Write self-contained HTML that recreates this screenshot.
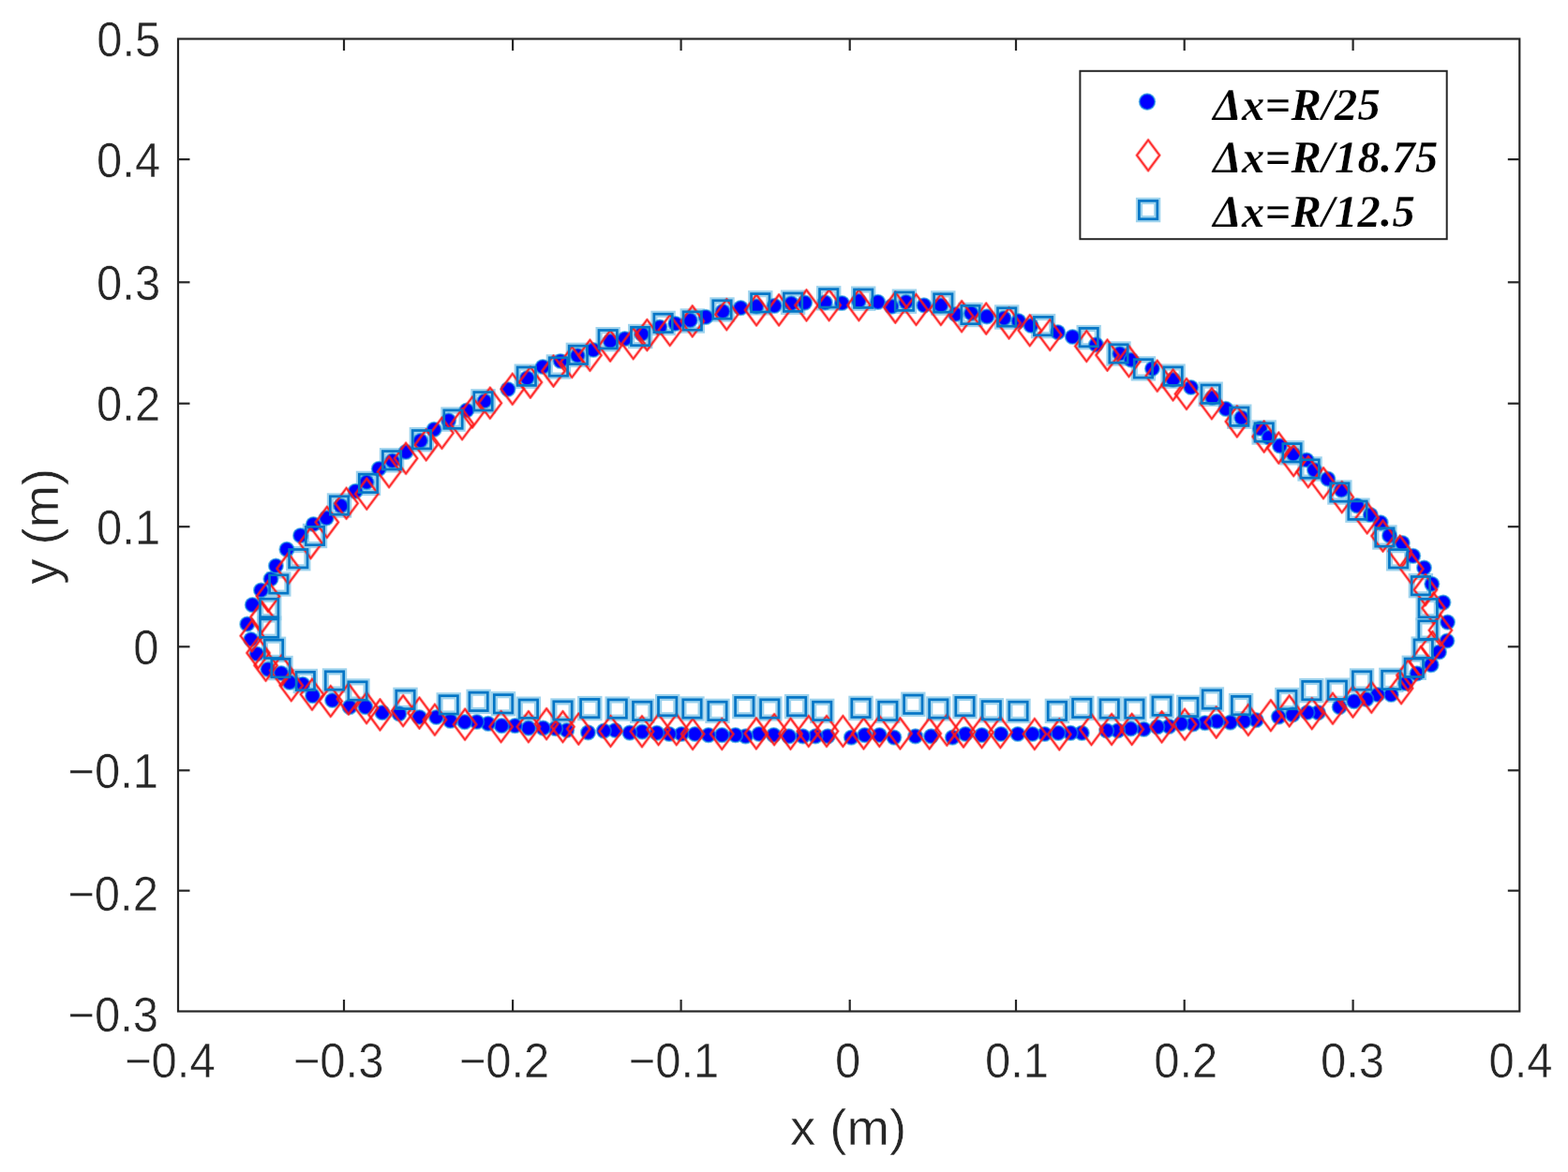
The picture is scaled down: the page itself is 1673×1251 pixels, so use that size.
<!DOCTYPE html>
<html lang="en"><head><meta charset="utf-8"><title>Droplet shape convergence</title>
<style>html,body{margin:0;padding:0;background:#fff;}body{width:1673px;height:1251px;overflow:hidden;}svg{display:block;}.t{font-family:"Liberation Sans",Arial,Helvetica,sans-serif;font-size:49px;fill:#262626;stroke:#fff;stroke-width:.45px;}.l{font-family:"Liberation Sans",Arial,Helvetica,sans-serif;font-size:54.5px;fill:#262626;stroke:#fff;stroke-width:.45px;}.g{font-family:"Liberation Serif","Times New Roman",serif;font-weight:bold;font-style:italic;font-size:48.5px;fill:#000;letter-spacing:.3px;stroke:#fff;stroke-width:.25px;}.b{fill:#0000ff;stroke:#0d94da;stroke-width:2.0;stroke-opacity:.6}.r{fill:none;stroke:#ff1414;stroke-width:1.8;stroke-opacity:.85}.rh{fill:none;stroke:#ff2a2a;stroke-width:3.6;stroke-opacity:.38;stroke-linejoin:round}.s{fill:none;stroke:#0476c6;stroke-width:2.7}.sh{fill:none;stroke:#8ecbea;stroke-width:7.2;stroke-opacity:.85}</style></head><body>
<svg width="1673" height="1251" viewBox="0 0 1673 1251" role="img" aria-label="Droplet boundary shape for three particle spacings">
<rect x="0" y="0" width="1673" height="1251" fill="#fff"/>
<g>
<g>
<rect class="sh" x="289.9" y="703.5" width="19.2" height="19.2"/>
<rect class="sh" x="282.4" y="683.2" width="19.2" height="19.2"/>
<rect class="sh" x="277.6" y="661.0" width="19.2" height="19.2"/>
<rect class="sh" x="277.6" y="639.4" width="19.2" height="19.2"/>
<rect class="sh" x="287.7" y="613.9" width="19.2" height="19.2"/>
<rect class="sh" x="308.7" y="586.6" width="19.2" height="19.2"/>
<rect class="sh" x="326.4" y="562.4" width="19.2" height="19.2"/>
<rect class="sh" x="352.4" y="529.9" width="19.2" height="19.2"/>
<rect class="sh" x="383.4" y="506.3" width="19.2" height="19.2"/>
<rect class="sh" x="408.5" y="481.7" width="19.2" height="19.2"/>
<rect class="sh" x="440.3" y="459.6" width="19.2" height="19.2"/>
<rect class="sh" x="473.9" y="438.0" width="19.2" height="19.2"/>
<rect class="sh" x="505.9" y="418.7" width="19.2" height="19.2"/>
<rect class="sh" x="552.2" y="392.1" width="19.2" height="19.2"/>
<rect class="sh" x="586.3" y="381.9" width="19.2" height="19.2"/>
<rect class="sh" x="607.3" y="369.3" width="19.2" height="19.2"/>
<rect class="sh" x="639.1" y="352.6" width="19.2" height="19.2"/>
<rect class="sh" x="673.6" y="349.4" width="19.2" height="19.2"/>
<rect class="sh" x="698.0" y="335.3" width="19.2" height="19.2"/>
<rect class="sh" x="729.2" y="332.9" width="19.2" height="19.2"/>
<rect class="sh" x="760.9" y="320.9" width="19.2" height="19.2"/>
<rect class="sh" x="801.7" y="313.7" width="19.2" height="19.2"/>
<rect class="sh" x="836.5" y="313.1" width="19.2" height="19.2"/>
<rect class="sh" x="874.6" y="308.7" width="19.2" height="19.2"/>
<rect class="sh" x="911.6" y="309.1" width="19.2" height="19.2"/>
<rect class="sh" x="955.3" y="312.1" width="19.2" height="19.2"/>
<rect class="sh" x="996.7" y="313.9" width="19.2" height="19.2"/>
<rect class="sh" x="1025.9" y="326.4" width="19.2" height="19.2"/>
<rect class="sh" x="1064.6" y="328.9" width="19.2" height="19.2"/>
<rect class="sh" x="1103.5" y="338.5" width="19.2" height="19.2"/>
<rect class="sh" x="1152.1" y="350.5" width="19.2" height="19.2"/>
<rect class="sh" x="1183.9" y="367.9" width="19.2" height="19.2"/>
<rect class="sh" x="1210.3" y="383.8" width="19.2" height="19.2"/>
<rect class="sh" x="1242.0" y="392.0" width="19.2" height="19.2"/>
<rect class="sh" x="1282.1" y="411.1" width="19.2" height="19.2"/>
<rect class="sh" x="1312.7" y="435.1" width="19.2" height="19.2"/>
<rect class="sh" x="1339.1" y="451.9" width="19.2" height="19.2"/>
<rect class="sh" x="1368.9" y="473.7" width="19.2" height="19.2"/>
<rect class="sh" x="1388.0" y="490.9" width="19.2" height="19.2"/>
<rect class="sh" x="1419.8" y="515.9" width="19.2" height="19.2"/>
<rect class="sh" x="1438.9" y="535.1" width="19.2" height="19.2"/>
<rect class="sh" x="1467.8" y="563.9" width="19.2" height="19.2"/>
<rect class="sh" x="1482.5" y="586.7" width="19.2" height="19.2"/>
<rect class="sh" x="1506.3" y="615.6" width="19.2" height="19.2"/>
<rect class="sh" x="1514.1" y="639.5" width="19.2" height="19.2"/>
<rect class="sh" x="1513.9" y="662.9" width="19.2" height="19.2"/>
<rect class="sh" x="1509.1" y="683.0" width="19.2" height="19.2"/>
<rect class="sh" x="1499.2" y="703.2" width="19.2" height="19.2"/>
<rect class="sh" x="1474.7" y="716.3" width="19.2" height="19.2"/>
<rect class="sh" x="1443.5" y="716.9" width="19.2" height="19.2"/>
<rect class="sh" x="1417.2" y="727.1" width="19.2" height="19.2"/>
<rect class="sh" x="1389.8" y="727.5" width="19.2" height="19.2"/>
<rect class="sh" x="1363.7" y="737.5" width="19.2" height="19.2"/>
<rect class="sh" x="1314.5" y="743.5" width="19.2" height="19.2"/>
<rect class="sh" x="1283.3" y="736.9" width="19.2" height="19.2"/>
<rect class="sh" x="1258.7" y="745.3" width="19.2" height="19.2"/>
<rect class="sh" x="1230.0" y="744.1" width="19.2" height="19.2"/>
<rect class="sh" x="1200.8" y="747.0" width="19.2" height="19.2"/>
<rect class="sh" x="1174.1" y="746.9" width="19.2" height="19.2"/>
<rect class="sh" x="1144.7" y="746.3" width="19.2" height="19.2"/>
<rect class="sh" x="1118.3" y="749.3" width="19.2" height="19.2"/>
<rect class="sh" x="1076.9" y="749.3" width="19.2" height="19.2"/>
<rect class="sh" x="1048.2" y="748.7" width="19.2" height="19.2"/>
<rect class="sh" x="1019.9" y="744.5" width="19.2" height="19.2"/>
<rect class="sh" x="991.7" y="746.9" width="19.2" height="19.2"/>
<rect class="sh" x="964.7" y="742.2" width="19.2" height="19.2"/>
<rect class="sh" x="937.7" y="749.3" width="19.2" height="19.2"/>
<rect class="sh" x="908.9" y="746.3" width="19.2" height="19.2"/>
<rect class="sh" x="867.6" y="749.3" width="19.2" height="19.2"/>
<rect class="sh" x="840.5" y="744.5" width="19.2" height="19.2"/>
<rect class="sh" x="811.7" y="746.9" width="19.2" height="19.2"/>
<rect class="sh" x="784.7" y="744.5" width="19.2" height="19.2"/>
<rect class="sh" x="755.9" y="749.3" width="19.2" height="19.2"/>
<rect class="sh" x="728.9" y="746.9" width="19.2" height="19.2"/>
<rect class="sh" x="702.6" y="744.5" width="19.2" height="19.2"/>
<rect class="sh" x="675.6" y="749.3" width="19.2" height="19.2"/>
<rect class="sh" x="649.1" y="747.0" width="19.2" height="19.2"/>
<rect class="sh" x="619.7" y="746.5" width="19.2" height="19.2"/>
<rect class="sh" x="590.9" y="748.9" width="19.2" height="19.2"/>
<rect class="sh" x="554.3" y="747.1" width="19.2" height="19.2"/>
<rect class="sh" x="527.4" y="741.7" width="19.2" height="19.2"/>
<rect class="sh" x="501.0" y="739.3" width="19.2" height="19.2"/>
<rect class="sh" x="469.1" y="742.8" width="19.2" height="19.2"/>
<rect class="sh" x="422.9" y="737.3" width="19.2" height="19.2"/>
<rect class="sh" x="371.9" y="727.9" width="19.2" height="19.2"/>
<rect class="sh" x="347.4" y="716.9" width="19.2" height="19.2"/>
<rect class="sh" x="316.2" y="717.4" width="19.2" height="19.2"/>
</g><g>
<circle class="b" cx="285.8" cy="714.3" r="7.6"/>
<circle class="b" cx="274.0" cy="698.0" r="7.6"/>
<circle class="b" cx="267.8" cy="682.5" r="7.6"/>
<circle class="b" cx="263.8" cy="666.2" r="7.6"/>
<circle class="b" cx="269.3" cy="645.7" r="7.6"/>
<circle class="b" cx="278.5" cy="630.0" r="7.6"/>
<circle class="b" cx="289.0" cy="618.0" r="7.6"/>
<circle class="b" cx="294.4" cy="604.0" r="7.6"/>
<circle class="b" cx="306.0" cy="586.4" r="7.6"/>
<circle class="b" cx="320.6" cy="571.7" r="7.6"/>
<circle class="b" cx="334.4" cy="559.5" r="7.6"/>
<circle class="b" cx="348.3" cy="552.8" r="7.6"/>
<circle class="b" cx="363.6" cy="539.9" r="7.6"/>
<circle class="b" cx="379.2" cy="524.3" r="7.6"/>
<circle class="b" cx="391.2" cy="514.7" r="7.6"/>
<circle class="b" cx="404.3" cy="500.3" r="7.6"/>
<circle class="b" cx="418.7" cy="491.9" r="7.6"/>
<circle class="b" cx="433.1" cy="482.4" r="7.6"/>
<circle class="b" cx="448.7" cy="470.4" r="7.6"/>
<circle class="b" cx="463.1" cy="458.4" r="7.6"/>
<circle class="b" cx="478.7" cy="448.8" r="7.6"/>
<circle class="b" cx="497.9" cy="438.0" r="7.6"/>
<circle class="b" cx="516.9" cy="428.0" r="7.6"/>
<circle class="b" cx="542.0" cy="415.5" r="7.6"/>
<circle class="b" cx="562.4" cy="403.5" r="7.6"/>
<circle class="b" cx="579.1" cy="391.5" r="7.6"/>
<circle class="b" cx="598.0" cy="385.5" r="7.6"/>
<circle class="b" cx="616.3" cy="379.5" r="7.6"/>
<circle class="b" cx="633.1" cy="373.5" r="7.6"/>
<circle class="b" cx="651.1" cy="364.0" r="7.6"/>
<circle class="b" cx="666.7" cy="361.6" r="7.6"/>
<circle class="b" cx="684.7" cy="356.5" r="7.6"/>
<circle class="b" cx="704.0" cy="349.1" r="7.6"/>
<circle class="b" cx="720.8" cy="345.5" r="7.6"/>
<circle class="b" cx="736.4" cy="341.9" r="7.6"/>
<circle class="b" cx="753.1" cy="338.3" r="7.6"/>
<circle class="b" cx="771.1" cy="332.3" r="7.6"/>
<circle class="b" cx="790.3" cy="328.7" r="7.6"/>
<circle class="b" cx="807.1" cy="326.9" r="7.6"/>
<circle class="b" cx="826.3" cy="326.3" r="7.6"/>
<circle class="b" cx="844.3" cy="323.9" r="7.6"/>
<circle class="b" cx="858.7" cy="323.1" r="7.6"/>
<circle class="b" cx="880.3" cy="322.8" r="7.6"/>
<circle class="b" cx="898.4" cy="323.5" r="7.6"/>
<circle class="b" cx="916.4" cy="321.1" r="7.6"/>
<circle class="b" cx="936.7" cy="322.3" r="7.6"/>
<circle class="b" cx="951.1" cy="327.1" r="7.6"/>
<circle class="b" cx="966.7" cy="322.3" r="7.6"/>
<circle class="b" cx="985.9" cy="325.9" r="7.6"/>
<circle class="b" cx="1003.9" cy="325.9" r="7.6"/>
<circle class="b" cx="1019.5" cy="335.5" r="7.6"/>
<circle class="b" cx="1036.3" cy="334.3" r="7.6"/>
<circle class="b" cx="1053.0" cy="337.9" r="7.6"/>
<circle class="b" cx="1071.2" cy="339.7" r="7.6"/>
<circle class="b" cx="1086.8" cy="342.7" r="7.6"/>
<circle class="b" cx="1100.0" cy="347.5" r="7.6"/>
<circle class="b" cx="1128.7" cy="354.7" r="7.6"/>
<circle class="b" cx="1144.3" cy="359.5" r="7.6"/>
<circle class="b" cx="1169.5" cy="367.9" r="7.6"/>
<circle class="b" cx="1194.7" cy="377.5" r="7.6"/>
<circle class="b" cx="1207.0" cy="384.2" r="7.6"/>
<circle class="b" cx="1229.5" cy="393.5" r="7.6"/>
<circle class="b" cx="1251.6" cy="405.2" r="7.6"/>
<circle class="b" cx="1270.7" cy="413.5" r="7.6"/>
<circle class="b" cx="1293.5" cy="424.3" r="7.6"/>
<circle class="b" cx="1307.9" cy="436.3" r="7.6"/>
<circle class="b" cx="1324.7" cy="445.9" r="7.6"/>
<circle class="b" cx="1344.5" cy="457.5" r="7.6"/>
<circle class="b" cx="1365.5" cy="475.9" r="7.6"/>
<circle class="b" cx="1379.8" cy="484.5" r="7.6"/>
<circle class="b" cx="1394.1" cy="491.0" r="7.6"/>
<circle class="b" cx="1402.4" cy="501.6" r="7.6"/>
<circle class="b" cx="1416.8" cy="511.2" r="7.6"/>
<circle class="b" cx="1431.2" cy="523.1" r="7.6"/>
<circle class="b" cx="1447.9" cy="539.9" r="7.6"/>
<circle class="b" cx="1462.3" cy="549.5" r="7.6"/>
<circle class="b" cx="1473.1" cy="557.9" r="7.6"/>
<circle class="b" cx="1482.5" cy="571.7" r="7.6"/>
<circle class="b" cx="1496.3" cy="579.5" r="7.6"/>
<circle class="b" cx="1507.7" cy="593.3" r="7.6"/>
<circle class="b" cx="1519.5" cy="606.0" r="7.6"/>
<circle class="b" cx="1527.8" cy="623.3" r="7.6"/>
<circle class="b" cx="1539.9" cy="643.1" r="7.6"/>
<circle class="b" cx="1544.5" cy="664.1" r="7.6"/>
<circle class="b" cx="1543.9" cy="684.0" r="7.6"/>
<circle class="b" cx="1535.5" cy="696.0" r="7.6"/>
<circle class="b" cx="1527.1" cy="709.7" r="7.6"/>
<circle class="b" cx="1511.9" cy="718.8" r="7.6"/>
<circle class="b" cx="1499.9" cy="729.5" r="7.6"/>
<circle class="b" cx="1484.3" cy="741.5" r="7.6"/>
<circle class="b" cx="1469.9" cy="741.5" r="7.6"/>
<circle class="b" cx="1457.9" cy="746.3" r="7.6"/>
<circle class="b" cx="1444.7" cy="748.7" r="7.6"/>
<circle class="b" cx="1429.2" cy="754.7" r="7.6"/>
<circle class="b" cx="1406.4" cy="760.7" r="7.6"/>
<circle class="b" cx="1394.9" cy="760.5" r="7.6"/>
<circle class="b" cx="1379.3" cy="762.9" r="7.6"/>
<circle class="b" cx="1364.3" cy="765.1" r="7.6"/>
<circle class="b" cx="1340.3" cy="768.7" r="7.6"/>
<circle class="b" cx="1327.1" cy="769.9" r="7.6"/>
<circle class="b" cx="1312.7" cy="771.1" r="7.6"/>
<circle class="b" cx="1298.3" cy="769.9" r="7.6"/>
<circle class="b" cx="1285.7" cy="771.7" r="7.6"/>
<circle class="b" cx="1273.1" cy="772.9" r="7.6"/>
<circle class="b" cx="1260.0" cy="772.3" r="7.6"/>
<circle class="b" cx="1247.4" cy="775.3" r="7.6"/>
<circle class="b" cx="1234.8" cy="775.9" r="7.6"/>
<circle class="b" cx="1220.4" cy="778.3" r="7.6"/>
<circle class="b" cx="1206.5" cy="777.9" r="7.6"/>
<circle class="b" cx="1192.7" cy="779.9" r="7.6"/>
<circle class="b" cx="1180.7" cy="779.9" r="7.6"/>
<circle class="b" cx="1154.3" cy="782.3" r="7.6"/>
<circle class="b" cx="1142.3" cy="782.3" r="7.6"/>
<circle class="b" cx="1129.1" cy="782.3" r="7.6"/>
<circle class="b" cx="1114.7" cy="783.5" r="7.6"/>
<circle class="b" cx="1101.5" cy="783.5" r="7.6"/>
<circle class="b" cx="1085.9" cy="783.5" r="7.6"/>
<circle class="b" cx="1068.0" cy="783.5" r="7.6"/>
<circle class="b" cx="1047.6" cy="784.7" r="7.6"/>
<circle class="b" cx="1030.1" cy="783.5" r="7.6"/>
<circle class="b" cx="1016.3" cy="787.1" r="7.6"/>
<circle class="b" cx="993.5" cy="785.9" r="7.6"/>
<circle class="b" cx="976.7" cy="785.9" r="7.6"/>
<circle class="b" cx="953.9" cy="787.1" r="7.6"/>
<circle class="b" cx="938.3" cy="784.7" r="7.6"/>
<circle class="b" cx="922.7" cy="784.7" r="7.6"/>
<circle class="b" cx="908.3" cy="787.1" r="7.6"/>
<circle class="b" cx="883.2" cy="785.9" r="7.6"/>
<circle class="b" cx="870.0" cy="785.9" r="7.6"/>
<circle class="b" cx="856.7" cy="785.9" r="7.6"/>
<circle class="b" cx="841.7" cy="785.9" r="7.6"/>
<circle class="b" cx="825.5" cy="784.7" r="7.6"/>
<circle class="b" cx="809.9" cy="783.5" r="7.6"/>
<circle class="b" cx="795.5" cy="785.9" r="7.6"/>
<circle class="b" cx="784.7" cy="784.7" r="7.6"/>
<circle class="b" cx="770.3" cy="784.7" r="7.6"/>
<circle class="b" cx="755.9" cy="784.7" r="7.6"/>
<circle class="b" cx="741.5" cy="783.5" r="7.6"/>
<circle class="b" cx="727.1" cy="783.5" r="7.6"/>
<circle class="b" cx="714.0" cy="783.5" r="7.6"/>
<circle class="b" cx="700.8" cy="782.3" r="7.6"/>
<circle class="b" cx="685.2" cy="781.1" r="7.6"/>
<circle class="b" cx="671.9" cy="782.1" r="7.6"/>
<circle class="b" cx="656.3" cy="779.5" r="7.6"/>
<circle class="b" cx="644.3" cy="780.1" r="7.6"/>
<circle class="b" cx="627.5" cy="781.9" r="7.6"/>
<circle class="b" cx="604.7" cy="779.5" r="7.6"/>
<circle class="b" cx="592.7" cy="777.7" r="7.6"/>
<circle class="b" cx="579.5" cy="777.1" r="7.6"/>
<circle class="b" cx="563.9" cy="777.1" r="7.6"/>
<circle class="b" cx="549.5" cy="774.7" r="7.6"/>
<circle class="b" cx="535.2" cy="774.7" r="7.6"/>
<circle class="b" cx="520.8" cy="772.3" r="7.6"/>
<circle class="b" cx="508.8" cy="770.5" r="7.6"/>
<circle class="b" cx="495.8" cy="770.7" r="7.6"/>
<circle class="b" cx="480.5" cy="769.5" r="7.6"/>
<circle class="b" cx="465.5" cy="765.5" r="7.6"/>
<circle class="b" cx="447.5" cy="765.5" r="7.6"/>
<circle class="b" cx="425.9" cy="761.9" r="7.6"/>
<circle class="b" cx="407.9" cy="760.7" r="7.6"/>
<circle class="b" cx="389.9" cy="754.7" r="7.6"/>
<circle class="b" cx="373.1" cy="754.7" r="7.6"/>
<circle class="b" cx="354.6" cy="747.5" r="7.6"/>
<circle class="b" cx="333.6" cy="742.7" r="7.6"/>
<circle class="b" cx="323.0" cy="730.3" r="7.6"/>
<circle class="b" cx="309.0" cy="728.3" r="7.6"/>
<circle class="b" cx="300.0" cy="718.5" r="7.6"/>
<circle class="b" cx="1354.0" cy="466.8" r="7.6"/>
</g><g>
<path class="rh" d="M310.8 715.4L322.9 731.7L310.8 748.0L298.7 731.7Z"/><path class="r" d="M310.8 715.4L322.9 731.7L310.8 748.0L298.7 731.7Z"/>
<path class="rh" d="M300.4 699.5L312.5 715.8L300.4 732.1L288.3 715.8Z"/><path class="r" d="M300.4 699.5L312.5 715.8L300.4 732.1L288.3 715.8Z"/>
<path class="rh" d="M283.6 694.0L295.7 710.3L283.6 726.6L271.5 710.3Z"/><path class="r" d="M283.6 694.0L295.7 710.3L283.6 726.6L271.5 710.3Z"/>
<path class="rh" d="M275.5 680.7L287.6 697.0L275.5 713.3L263.4 697.0Z"/><path class="r" d="M275.5 680.7L287.6 697.0L275.5 713.3L263.4 697.0Z"/>
<path class="rh" d="M268.8 662.5L280.9 678.8L268.8 695.1L256.7 678.8Z"/><path class="r" d="M268.8 662.5L280.9 678.8L268.8 695.1L256.7 678.8Z"/>
<path class="rh" d="M279.5 642.3L291.6 658.6L279.5 674.9L267.4 658.6Z"/><path class="r" d="M279.5 642.3L291.6 658.6L279.5 674.9L267.4 658.6Z"/>
<path class="rh" d="M286.0 620.2L298.1 636.5L286.0 652.8L273.9 636.5Z"/><path class="r" d="M286.0 620.2L298.1 636.5L286.0 652.8L273.9 636.5Z"/>
<path class="rh" d="M307.6 590.6L319.7 606.9L307.6 623.2L295.5 606.9Z"/><path class="r" d="M307.6 590.6L319.7 606.9L307.6 623.2L295.5 606.9Z"/>
<path class="rh" d="M331.5 563.3L343.6 579.6L331.5 595.9L319.4 579.6Z"/><path class="r" d="M331.5 563.3L343.6 579.6L331.5 595.9L319.4 579.6Z"/>
<path class="rh" d="M348.9 541.1L361.0 557.4L348.9 573.7L336.8 557.4Z"/><path class="r" d="M348.9 541.1L361.0 557.4L348.9 573.7L336.8 557.4Z"/>
<path class="rh" d="M369.6 521.0L381.7 537.3L369.6 553.6L357.5 537.3Z"/><path class="r" d="M369.6 521.0L381.7 537.3L369.6 553.6L357.5 537.3Z"/>
<path class="rh" d="M391.3 510.9L403.4 527.2L391.3 543.5L379.2 527.2Z"/><path class="r" d="M391.3 510.9L403.4 527.2L391.3 543.5L379.2 527.2Z"/>
<path class="rh" d="M415.1 487.4L427.2 503.7L415.1 520.0L403.0 503.7Z"/><path class="r" d="M415.1 487.4L427.2 503.7L415.1 520.0L403.0 503.7Z"/>
<path class="rh" d="M433.1 473.0L445.2 489.3L433.1 505.6L421.0 489.3Z"/><path class="r" d="M433.1 473.0L445.2 489.3L433.1 505.6L421.0 489.3Z"/>
<path class="rh" d="M454.7 458.6L466.8 474.9L454.7 491.2L442.6 474.9Z"/><path class="r" d="M454.7 458.6L466.8 474.9L454.7 491.2L442.6 474.9Z"/>
<path class="rh" d="M471.5 446.0L483.6 462.3L471.5 478.6L459.4 462.3Z"/><path class="r" d="M471.5 446.0L483.6 462.3L471.5 478.6L459.4 462.3Z"/>
<path class="rh" d="M493.1 436.4L505.2 452.7L493.1 469.0L481.0 452.7Z"/><path class="r" d="M493.1 436.4L505.2 452.7L493.1 469.0L481.0 452.7Z"/>
<path class="rh" d="M504.0 423.7L516.1 440.0L504.0 456.3L491.9 440.0Z"/><path class="r" d="M504.0 423.7L516.1 440.0L504.0 456.3L491.9 440.0Z"/>
<path class="rh" d="M522.9 413.9L535.0 430.2L522.9 446.5L510.8 430.2Z"/><path class="r" d="M522.9 413.9L535.0 430.2L522.9 446.5L510.8 430.2Z"/>
<path class="rh" d="M546.8 399.0L558.9 415.3L546.8 431.6L534.7 415.3Z"/><path class="r" d="M546.8 399.0L558.9 415.3L546.8 431.6L534.7 415.3Z"/>
<path class="rh" d="M565.9 391.8L578.0 408.1L565.9 424.4L553.8 408.1Z"/><path class="r" d="M565.9 391.8L578.0 408.1L565.9 424.4L553.8 408.1Z"/>
<path class="rh" d="M590.5 379.8L602.6 396.1L590.5 412.4L578.4 396.1Z"/><path class="r" d="M590.5 379.8L602.6 396.1L590.5 412.4L578.4 396.1Z"/>
<path class="rh" d="M610.3 370.2L622.4 386.5L610.3 402.8L598.2 386.5Z"/><path class="r" d="M610.3 370.2L622.4 386.5L610.3 402.8L598.2 386.5Z"/>
<path class="rh" d="M629.5 363.0L641.6 379.3L629.5 395.6L617.4 379.3Z"/><path class="r" d="M629.5 363.0L641.6 379.3L629.5 395.6L617.4 379.3Z"/>
<path class="rh" d="M651.1 352.8L663.2 369.1L651.1 385.4L639.0 369.1Z"/><path class="r" d="M651.1 352.8L663.2 369.1L651.1 385.4L639.0 369.1Z"/>
<path class="rh" d="M675.7 350.4L687.8 366.7L675.7 383.0L663.6 366.7Z"/><path class="r" d="M675.7 350.4L687.8 366.7L675.7 383.0L663.6 366.7Z"/>
<path class="rh" d="M690.4 341.3L702.5 357.6L690.4 373.9L678.3 357.6Z"/><path class="r" d="M690.4 341.3L702.5 357.6L690.4 373.9L678.3 357.6Z"/>
<path class="rh" d="M714.8 336.2L726.9 352.5L714.8 368.8L702.7 352.5Z"/><path class="r" d="M714.8 336.2L726.9 352.5L714.8 368.8L702.7 352.5Z"/>
<path class="rh" d="M738.8 326.6L750.9 342.9L738.8 359.2L726.7 342.9Z"/><path class="r" d="M738.8 326.6L750.9 342.9L738.8 359.2L726.7 342.9Z"/>
<path class="rh" d="M775.3 319.4L787.4 335.7L775.3 352.0L763.2 335.7Z"/><path class="r" d="M775.3 319.4L787.4 335.7L775.3 352.0L763.2 335.7Z"/>
<path class="rh" d="M807.1 314.6L819.2 330.9L807.1 347.2L795.0 330.9Z"/><path class="r" d="M807.1 314.6L819.2 330.9L807.1 347.2L795.0 330.9Z"/>
<path class="rh" d="M831.1 314.6L843.2 330.9L831.1 347.2L819.0 330.9Z"/><path class="r" d="M831.1 314.6L843.2 330.9L831.1 347.2L819.0 330.9Z"/>
<path class="rh" d="M860.5 309.6L872.6 325.9L860.5 342.2L848.4 325.9Z"/><path class="r" d="M860.5 309.6L872.6 325.9L860.5 342.2L848.4 325.9Z"/>
<path class="rh" d="M884.6 309.4L896.7 325.7L884.6 342.0L872.5 325.7Z"/><path class="r" d="M884.6 309.4L896.7 325.7L884.6 342.0L872.5 325.7Z"/>
<path class="rh" d="M916.4 309.4L928.5 325.7L916.4 342.0L904.3 325.7Z"/><path class="r" d="M916.4 309.4L928.5 325.7L916.4 342.0L904.3 325.7Z"/>
<path class="rh" d="M955.3 311.8L967.4 328.1L955.3 344.4L943.2 328.1Z"/><path class="r" d="M955.3 311.8L967.4 328.1L955.3 344.4L943.2 328.1Z"/>
<path class="rh" d="M977.5 314.2L989.6 330.5L977.5 346.8L965.4 330.5Z"/><path class="r" d="M977.5 314.2L989.6 330.5L977.5 346.8L965.4 330.5Z"/>
<path class="rh" d="M1003.9 314.2L1016.0 330.5L1003.9 346.8L991.8 330.5Z"/><path class="r" d="M1003.9 314.2L1016.0 330.5L1003.9 346.8L991.8 330.5Z"/>
<path class="rh" d="M1026.1 321.4L1038.2 337.7L1026.1 354.0L1014.0 337.7Z"/><path class="r" d="M1026.1 321.4L1038.2 337.7L1026.1 354.0L1014.0 337.7Z"/>
<path class="rh" d="M1052.2 323.8L1064.3 340.1L1052.2 356.4L1040.1 340.1Z"/><path class="r" d="M1052.2 323.8L1064.3 340.1L1052.2 356.4L1040.1 340.1Z"/>
<path class="rh" d="M1076.6 328.6L1088.7 344.9L1076.6 361.2L1064.5 344.9Z"/><path class="r" d="M1076.6 328.6L1088.7 344.9L1076.6 361.2L1064.5 344.9Z"/>
<path class="rh" d="M1098.8 336.4L1110.9 352.7L1098.8 369.0L1086.7 352.7Z"/><path class="r" d="M1098.8 336.4L1110.9 352.7L1098.8 369.0L1086.7 352.7Z"/>
<path class="rh" d="M1120.3 341.2L1132.4 357.5L1120.3 373.8L1108.2 357.5Z"/><path class="r" d="M1120.3 341.2L1132.4 357.5L1120.3 373.8L1108.2 357.5Z"/>
<path class="rh" d="M1159.3 353.2L1171.4 369.5L1159.3 385.8L1147.2 369.5Z"/><path class="r" d="M1159.3 353.2L1171.4 369.5L1159.3 385.8L1147.2 369.5Z"/>
<path class="rh" d="M1181.5 362.8L1193.6 379.1L1181.5 395.4L1169.4 379.1Z"/><path class="r" d="M1181.5 362.8L1193.6 379.1L1181.5 395.4L1169.4 379.1Z"/>
<path class="rh" d="M1204.5 369.4L1216.6 385.7L1204.5 402.0L1192.4 385.7Z"/><path class="r" d="M1204.5 369.4L1216.6 385.7L1204.5 402.0L1192.4 385.7Z"/>
<path class="rh" d="M1234.8 385.0L1246.9 401.3L1234.8 417.6L1222.7 401.3Z"/><path class="r" d="M1234.8 385.0L1246.9 401.3L1234.8 417.6L1222.7 401.3Z"/>
<path class="rh" d="M1251.6 394.6L1263.7 410.9L1251.6 427.2L1239.5 410.9Z"/><path class="r" d="M1251.6 394.6L1263.7 410.9L1251.6 427.2L1239.5 410.9Z"/>
<path class="rh" d="M1266.0 404.2L1278.1 420.5L1266.0 436.8L1253.9 420.5Z"/><path class="r" d="M1266.0 404.2L1278.1 420.5L1266.0 436.8L1253.9 420.5Z"/>
<path class="rh" d="M1292.9 414.4L1305.0 430.7L1292.9 447.0L1280.8 430.7Z"/><path class="r" d="M1292.9 414.4L1305.0 430.7L1292.9 447.0L1280.8 430.7Z"/>
<path class="rh" d="M1319.9 433.6L1332.0 449.9L1319.9 466.2L1307.8 449.9Z"/><path class="r" d="M1319.9 433.6L1332.0 449.9L1319.9 466.2L1307.8 449.9Z"/>
<path class="rh" d="M1348.7 449.8L1360.8 466.1L1348.7 482.4L1336.6 466.1Z"/><path class="r" d="M1348.7 449.8L1360.8 466.1L1348.7 482.4L1336.6 466.1Z"/>
<path class="rh" d="M1364.3 461.8L1376.4 478.1L1364.3 494.4L1352.2 478.1Z"/><path class="r" d="M1364.3 461.8L1376.4 478.1L1364.3 494.4L1352.2 478.1Z"/>
<path class="rh" d="M1380.2 475.4L1392.3 491.7L1380.2 508.0L1368.1 491.7Z"/><path class="r" d="M1380.2 475.4L1392.3 491.7L1380.2 508.0L1368.1 491.7Z"/>
<path class="rh" d="M1395.8 487.4L1407.9 503.7L1395.8 520.0L1383.7 503.7Z"/><path class="r" d="M1395.8 487.4L1407.9 503.7L1395.8 520.0L1383.7 503.7Z"/>
<path class="rh" d="M1412.0 499.4L1424.1 515.7L1412.0 532.0L1399.9 515.7Z"/><path class="r" d="M1412.0 499.4L1424.1 515.7L1412.0 532.0L1399.9 515.7Z"/>
<path class="rh" d="M1431.8 514.4L1443.9 530.7L1431.8 547.0L1419.7 530.7Z"/><path class="r" d="M1431.8 514.4L1443.9 530.7L1431.8 547.0L1419.7 530.7Z"/>
<path class="rh" d="M1458.7 536.6L1470.8 552.9L1458.7 569.2L1446.6 552.9Z"/><path class="r" d="M1458.7 536.6L1470.8 552.9L1458.7 569.2L1446.6 552.9Z"/>
<path class="rh" d="M1475.5 555.8L1487.6 572.1L1475.5 588.4L1463.4 572.1Z"/><path class="r" d="M1475.5 555.8L1487.6 572.1L1475.5 588.4L1463.4 572.1Z"/>
<path class="rh" d="M1493.7 571.9L1505.8 588.2L1493.7 604.5L1481.6 588.2Z"/><path class="r" d="M1493.7 571.9L1505.8 588.2L1493.7 604.5L1481.6 588.2Z"/>
<path class="rh" d="M1506.3 590.9L1518.4 607.2L1506.3 623.5L1494.2 607.2Z"/><path class="r" d="M1506.3 590.9L1518.4 607.2L1506.3 623.5L1494.2 607.2Z"/>
<path class="rh" d="M1520.9 613.3L1533.0 629.6L1520.9 645.9L1508.8 629.6Z"/><path class="r" d="M1520.9 613.3L1533.0 629.6L1520.9 645.9L1508.8 629.6Z"/>
<path class="rh" d="M1529.5 632.8L1541.6 649.1L1529.5 665.4L1517.4 649.1Z"/><path class="r" d="M1529.5 632.8L1541.6 649.1L1529.5 665.4L1517.4 649.1Z"/>
<path class="rh" d="M1536.9 656.5L1549.0 672.8L1536.9 689.1L1524.8 672.8Z"/><path class="r" d="M1536.9 656.5L1549.0 672.8L1536.9 689.1L1524.8 672.8Z"/>
<path class="rh" d="M1528.5 674.2L1540.6 690.5L1528.5 706.8L1516.4 690.5Z"/><path class="r" d="M1528.5 674.2L1540.6 690.5L1528.5 706.8L1516.4 690.5Z"/>
<path class="rh" d="M1516.0 690.2L1528.1 706.5L1516.0 722.8L1503.9 706.5Z"/><path class="r" d="M1516.0 690.2L1528.1 706.5L1516.0 722.8L1503.9 706.5Z"/>
<path class="rh" d="M1495.1 718.4L1507.2 734.7L1495.1 751.0L1483.0 734.7Z"/><path class="r" d="M1495.1 718.4L1507.2 734.7L1495.1 751.0L1483.0 734.7Z"/>
<path class="rh" d="M1463.3 728.0L1475.4 744.3L1463.3 760.6L1451.2 744.3Z"/><path class="r" d="M1463.3 728.0L1475.4 744.3L1463.3 760.6L1451.2 744.3Z"/>
<path class="rh" d="M1443.5 732.8L1455.6 749.1L1443.5 765.4L1431.4 749.1Z"/><path class="r" d="M1443.5 732.8L1455.6 749.1L1443.5 765.4L1431.4 749.1Z"/>
<path class="rh" d="M1422.0 740.0L1434.1 756.3L1422.0 772.6L1409.9 756.3Z"/><path class="r" d="M1422.0 740.0L1434.1 756.3L1422.0 772.6L1409.9 756.3Z"/>
<path class="rh" d="M1399.8 745.4L1411.9 761.7L1399.8 778.0L1387.7 761.7Z"/><path class="r" d="M1399.8 745.4L1411.9 761.7L1399.8 778.0L1387.7 761.7Z"/>
<path class="rh" d="M1375.7 742.6L1387.8 758.9L1375.7 775.2L1363.6 758.9Z"/><path class="r" d="M1375.7 742.6L1387.8 758.9L1375.7 775.2L1363.6 758.9Z"/>
<path class="rh" d="M1355.9 747.4L1368.0 763.7L1355.9 780.0L1343.8 763.7Z"/><path class="r" d="M1355.9 747.4L1368.0 763.7L1355.9 780.0L1343.8 763.7Z"/>
<path class="rh" d="M1331.9 752.2L1344.0 768.5L1331.9 784.8L1319.8 768.5Z"/><path class="r" d="M1331.9 752.2L1344.0 768.5L1331.9 784.8L1319.8 768.5Z"/>
<path class="rh" d="M1297.7 754.8L1309.8 771.1L1297.7 787.4L1285.6 771.1Z"/><path class="r" d="M1297.7 754.8L1309.8 771.1L1297.7 787.4L1285.6 771.1Z"/>
<path class="rh" d="M1264.1 757.0L1276.2 773.3L1264.1 789.6L1252.0 773.3Z"/><path class="r" d="M1264.1 757.0L1276.2 773.3L1264.1 789.6L1252.0 773.3Z"/>
<path class="rh" d="M1239.6 759.6L1251.7 775.9L1239.6 792.2L1227.5 775.9Z"/><path class="r" d="M1239.6 759.6L1251.7 775.9L1239.6 792.2L1227.5 775.9Z"/>
<path class="rh" d="M1207.7 762.1L1219.8 778.4L1207.7 794.7L1195.6 778.4Z"/><path class="r" d="M1207.7 762.1L1219.8 778.4L1207.7 794.7L1195.6 778.4Z"/>
<path class="rh" d="M1186.1 762.2L1198.2 778.5L1186.1 794.8L1174.0 778.5Z"/><path class="r" d="M1186.1 762.2L1198.2 778.5L1186.1 794.8L1174.0 778.5Z"/>
<path class="rh" d="M1164.5 762.4L1176.6 778.7L1164.5 795.0L1152.4 778.7Z"/><path class="r" d="M1164.5 762.4L1176.6 778.7L1164.5 795.0L1152.4 778.7Z"/>
<path class="rh" d="M1130.3 767.6L1142.4 783.9L1130.3 800.2L1118.2 783.9Z"/><path class="r" d="M1130.3 767.6L1142.4 783.9L1130.3 800.2L1118.2 783.9Z"/>
<path class="rh" d="M1103.9 767.2L1116.0 783.5L1103.9 799.8L1091.8 783.5Z"/><path class="r" d="M1103.9 767.2L1116.0 783.5L1103.9 799.8L1091.8 783.5Z"/>
<path class="rh" d="M1067.4 765.4L1079.5 781.7L1067.4 798.0L1055.3 781.7Z"/><path class="r" d="M1067.4 765.4L1079.5 781.7L1067.4 798.0L1055.3 781.7Z"/>
<path class="rh" d="M1047.6 765.4L1059.7 781.7L1047.6 798.0L1035.5 781.7Z"/><path class="r" d="M1047.6 765.4L1059.7 781.7L1047.6 798.0L1035.5 781.7Z"/>
<path class="rh" d="M1028.0 764.8L1040.1 781.1L1028.0 797.4L1015.9 781.1Z"/><path class="r" d="M1028.0 764.8L1040.1 781.1L1028.0 797.4L1015.9 781.1Z"/>
<path class="rh" d="M1010.3 763.0L1022.4 779.3L1010.3 795.6L998.2 779.3Z"/><path class="r" d="M1010.3 763.0L1022.4 779.3L1010.3 795.6L998.2 779.3Z"/>
<path class="rh" d="M991.7 766.6L1003.8 782.9L991.7 799.2L979.6 782.9Z"/><path class="r" d="M991.7 766.6L1003.8 782.9L991.7 799.2L979.6 782.9Z"/>
<path class="rh" d="M960.5 766.6L972.6 782.9L960.5 799.2L948.4 782.9Z"/><path class="r" d="M960.5 766.6L972.6 782.9L960.5 799.2L948.4 782.9Z"/>
<path class="rh" d="M938.3 764.2L950.4 780.5L938.3 796.8L926.2 780.5Z"/><path class="r" d="M938.3 764.2L950.4 780.5L938.3 796.8L926.2 780.5Z"/>
<path class="rh" d="M921.5 766.6L933.6 782.9L921.5 799.2L909.4 782.9Z"/><path class="r" d="M921.5 766.6L933.6 782.9L921.5 799.2L909.4 782.9Z"/>
<path class="rh" d="M899.4 764.2L911.5 780.5L899.4 796.8L887.3 780.5Z"/><path class="r" d="M899.4 764.2L911.5 780.5L899.4 796.8L887.3 780.5Z"/>
<path class="rh" d="M882.0 764.2L894.1 780.5L882.0 796.8L869.9 780.5Z"/><path class="r" d="M882.0 764.2L894.1 780.5L882.0 796.8L869.9 780.5Z"/>
<path class="rh" d="M862.8 764.2L874.9 780.5L862.8 796.8L850.7 780.5Z"/><path class="r" d="M862.8 764.2L874.9 780.5L862.8 796.8L850.7 780.5Z"/>
<path class="rh" d="M843.5 766.9L855.6 783.2L843.5 799.5L831.4 783.2Z"/><path class="r" d="M843.5 766.9L855.6 783.2L843.5 799.5L831.4 783.2Z"/>
<path class="rh" d="M826.1 762.4L838.2 778.7L826.1 795.0L814.0 778.7Z"/><path class="r" d="M826.1 762.4L838.2 778.7L826.1 795.0L814.0 778.7Z"/>
<path class="rh" d="M806.9 766.6L819.0 782.9L806.9 799.2L794.8 782.9Z"/><path class="r" d="M806.9 766.6L819.0 782.9L806.9 799.2L794.8 782.9Z"/>
<path class="rh" d="M770.3 767.2L782.4 783.5L770.3 799.8L758.2 783.5Z"/><path class="r" d="M770.3 767.2L782.4 783.5L770.3 799.8L758.2 783.5Z"/>
<path class="rh" d="M739.1 767.2L751.2 783.5L739.1 799.8L727.0 783.5Z"/><path class="r" d="M739.1 767.2L751.2 783.5L739.1 799.8L727.0 783.5Z"/>
<path class="rh" d="M721.8 762.4L733.9 778.7L721.8 795.0L709.7 778.7Z"/><path class="r" d="M721.8 762.4L733.9 778.7L721.8 795.0L709.7 778.7Z"/>
<path class="rh" d="M702.6 762.4L714.7 778.7L702.6 795.0L690.5 778.7Z"/><path class="r" d="M702.6 762.4L714.7 778.7L702.6 795.0L690.5 778.7Z"/>
<path class="rh" d="M685.0 764.5L697.1 780.8L685.0 797.1L672.9 780.8Z"/><path class="r" d="M685.0 764.5L697.1 780.8L685.0 797.1L672.9 780.8Z"/>
<path class="rh" d="M651.5 764.2L663.6 780.5L651.5 796.8L639.4 780.5Z"/><path class="r" d="M651.5 764.2L663.6 780.5L651.5 796.8L639.4 780.5Z"/>
<path class="rh" d="M617.3 761.8L629.4 778.1L617.3 794.4L605.2 778.1Z"/><path class="r" d="M617.3 761.8L629.4 778.1L617.3 794.4L605.2 778.1Z"/>
<path class="rh" d="M600.5 759.4L612.6 775.7L600.5 792.0L588.4 775.7Z"/><path class="r" d="M600.5 759.4L612.6 775.7L600.5 792.0L588.4 775.7Z"/>
<path class="rh" d="M583.1 756.4L595.2 772.7L583.1 789.0L571.0 772.7Z"/><path class="r" d="M583.1 756.4L595.2 772.7L583.1 789.0L571.0 772.7Z"/>
<path class="rh" d="M563.9 759.4L576.0 775.7L563.9 792.0L551.8 775.7Z"/><path class="r" d="M563.9 759.4L576.0 775.7L563.9 792.0L551.8 775.7Z"/>
<path class="rh" d="M534.6 759.4L546.7 775.7L534.6 792.0L522.5 775.7Z"/><path class="r" d="M534.6 759.4L546.7 775.7L534.6 792.0L522.5 775.7Z"/>
<path class="rh" d="M496.1 756.9L508.2 773.2L496.1 789.5L484.0 773.2Z"/><path class="r" d="M496.1 756.9L508.2 773.2L496.1 789.5L484.0 773.2Z"/>
<path class="rh" d="M463.9 752.0L476.0 768.3L463.9 784.6L451.8 768.3Z"/><path class="r" d="M463.9 752.0L476.0 768.3L463.9 784.6L451.8 768.3Z"/>
<path class="rh" d="M447.5 744.8L459.6 761.1L447.5 777.4L435.4 761.1Z"/><path class="r" d="M447.5 744.8L459.6 761.1L447.5 777.4L435.4 761.1Z"/>
<path class="rh" d="M430.1 742.4L442.2 758.7L430.1 775.0L418.0 758.7Z"/><path class="r" d="M430.1 742.4L442.2 758.7L430.1 775.0L418.0 758.7Z"/>
<path class="rh" d="M405.5 746.6L417.6 762.9L405.5 779.2L393.4 762.9Z"/><path class="r" d="M405.5 746.6L417.6 762.9L405.5 779.2L393.4 762.9Z"/>
<path class="rh" d="M391.1 739.4L403.2 755.7L391.1 772.0L379.0 755.7Z"/><path class="r" d="M391.1 739.4L403.2 755.7L391.1 772.0L379.0 755.7Z"/>
<path class="rh" d="M371.9 729.8L384.0 746.1L371.9 762.4L359.8 746.1Z"/><path class="r" d="M371.9 729.8L384.0 746.1L371.9 762.4L359.8 746.1Z"/>
<path class="rh" d="M352.8 732.2L364.9 748.5L352.8 764.8L340.7 748.5Z"/><path class="r" d="M352.8 732.2L364.9 748.5L352.8 764.8L340.7 748.5Z"/>
<path class="rh" d="M333.0 725.0L345.1 741.3L333.0 757.6L320.9 741.3Z"/><path class="r" d="M333.0 725.0L345.1 741.3L333.0 757.6L320.9 741.3Z"/>
<path class="rh" d="M1502.4 704.6L1514.5 720.9L1502.4 737.2L1490.3 720.9Z"/><path class="r" d="M1502.4 704.6L1514.5 720.9L1502.4 737.2L1490.3 720.9Z"/>
</g><g>
<rect class="s" x="289.8" y="703.4" width="19.4" height="19.4"/>
<rect class="s" x="282.3" y="683.1" width="19.4" height="19.4"/>
<rect class="s" x="277.5" y="660.9" width="19.4" height="19.4"/>
<rect class="s" x="277.5" y="639.3" width="19.4" height="19.4"/>
<rect class="s" x="287.6" y="613.8" width="19.4" height="19.4"/>
<rect class="s" x="308.6" y="586.5" width="19.4" height="19.4"/>
<rect class="s" x="326.3" y="562.3" width="19.4" height="19.4"/>
<rect class="s" x="352.3" y="529.8" width="19.4" height="19.4"/>
<rect class="s" x="383.3" y="506.2" width="19.4" height="19.4"/>
<rect class="s" x="408.4" y="481.6" width="19.4" height="19.4"/>
<rect class="s" x="440.2" y="459.5" width="19.4" height="19.4"/>
<rect class="s" x="473.8" y="437.9" width="19.4" height="19.4"/>
<rect class="s" x="505.8" y="418.6" width="19.4" height="19.4"/>
<rect class="s" x="552.1" y="392.0" width="19.4" height="19.4"/>
<rect class="s" x="586.2" y="381.8" width="19.4" height="19.4"/>
<rect class="s" x="607.2" y="369.2" width="19.4" height="19.4"/>
<rect class="s" x="639.0" y="352.5" width="19.4" height="19.4"/>
<rect class="s" x="673.5" y="349.3" width="19.4" height="19.4"/>
<rect class="s" x="697.9" y="335.2" width="19.4" height="19.4"/>
<rect class="s" x="729.1" y="332.8" width="19.4" height="19.4"/>
<rect class="s" x="760.8" y="320.8" width="19.4" height="19.4"/>
<rect class="s" x="801.6" y="313.6" width="19.4" height="19.4"/>
<rect class="s" x="836.4" y="313.0" width="19.4" height="19.4"/>
<rect class="s" x="874.5" y="308.6" width="19.4" height="19.4"/>
<rect class="s" x="911.5" y="309.0" width="19.4" height="19.4"/>
<rect class="s" x="955.2" y="312.0" width="19.4" height="19.4"/>
<rect class="s" x="996.6" y="313.8" width="19.4" height="19.4"/>
<rect class="s" x="1025.8" y="326.3" width="19.4" height="19.4"/>
<rect class="s" x="1064.5" y="328.8" width="19.4" height="19.4"/>
<rect class="s" x="1103.4" y="338.4" width="19.4" height="19.4"/>
<rect class="s" x="1152.0" y="350.4" width="19.4" height="19.4"/>
<rect class="s" x="1183.8" y="367.8" width="19.4" height="19.4"/>
<rect class="s" x="1210.2" y="383.7" width="19.4" height="19.4"/>
<rect class="s" x="1241.9" y="391.9" width="19.4" height="19.4"/>
<rect class="s" x="1282.0" y="411.0" width="19.4" height="19.4"/>
<rect class="s" x="1312.6" y="435.0" width="19.4" height="19.4"/>
<rect class="s" x="1339.0" y="451.8" width="19.4" height="19.4"/>
<rect class="s" x="1368.8" y="473.6" width="19.4" height="19.4"/>
<rect class="s" x="1387.9" y="490.8" width="19.4" height="19.4"/>
<rect class="s" x="1419.7" y="515.8" width="19.4" height="19.4"/>
<rect class="s" x="1438.8" y="535.0" width="19.4" height="19.4"/>
<rect class="s" x="1467.7" y="563.8" width="19.4" height="19.4"/>
<rect class="s" x="1482.4" y="586.6" width="19.4" height="19.4"/>
<rect class="s" x="1506.2" y="615.5" width="19.4" height="19.4"/>
<rect class="s" x="1514.0" y="639.4" width="19.4" height="19.4"/>
<rect class="s" x="1513.8" y="662.8" width="19.4" height="19.4"/>
<rect class="s" x="1509.0" y="682.9" width="19.4" height="19.4"/>
<rect class="s" x="1499.1" y="703.1" width="19.4" height="19.4"/>
<rect class="s" x="1474.6" y="716.2" width="19.4" height="19.4"/>
<rect class="s" x="1443.4" y="716.8" width="19.4" height="19.4"/>
<rect class="s" x="1417.1" y="727.0" width="19.4" height="19.4"/>
<rect class="s" x="1389.7" y="727.4" width="19.4" height="19.4"/>
<rect class="s" x="1363.6" y="737.4" width="19.4" height="19.4"/>
<rect class="s" x="1314.4" y="743.4" width="19.4" height="19.4"/>
<rect class="s" x="1283.2" y="736.8" width="19.4" height="19.4"/>
<rect class="s" x="1258.6" y="745.2" width="19.4" height="19.4"/>
<rect class="s" x="1229.9" y="744.0" width="19.4" height="19.4"/>
<rect class="s" x="1200.7" y="746.9" width="19.4" height="19.4"/>
<rect class="s" x="1174.0" y="746.8" width="19.4" height="19.4"/>
<rect class="s" x="1144.6" y="746.2" width="19.4" height="19.4"/>
<rect class="s" x="1118.2" y="749.2" width="19.4" height="19.4"/>
<rect class="s" x="1076.8" y="749.2" width="19.4" height="19.4"/>
<rect class="s" x="1048.1" y="748.6" width="19.4" height="19.4"/>
<rect class="s" x="1019.8" y="744.4" width="19.4" height="19.4"/>
<rect class="s" x="991.6" y="746.8" width="19.4" height="19.4"/>
<rect class="s" x="964.6" y="742.1" width="19.4" height="19.4"/>
<rect class="s" x="937.6" y="749.2" width="19.4" height="19.4"/>
<rect class="s" x="908.8" y="746.2" width="19.4" height="19.4"/>
<rect class="s" x="867.5" y="749.2" width="19.4" height="19.4"/>
<rect class="s" x="840.4" y="744.4" width="19.4" height="19.4"/>
<rect class="s" x="811.6" y="746.8" width="19.4" height="19.4"/>
<rect class="s" x="784.6" y="744.4" width="19.4" height="19.4"/>
<rect class="s" x="755.8" y="749.2" width="19.4" height="19.4"/>
<rect class="s" x="728.8" y="746.8" width="19.4" height="19.4"/>
<rect class="s" x="702.5" y="744.4" width="19.4" height="19.4"/>
<rect class="s" x="675.5" y="749.2" width="19.4" height="19.4"/>
<rect class="s" x="649.0" y="746.9" width="19.4" height="19.4"/>
<rect class="s" x="619.6" y="746.4" width="19.4" height="19.4"/>
<rect class="s" x="590.8" y="748.8" width="19.4" height="19.4"/>
<rect class="s" x="554.2" y="747.0" width="19.4" height="19.4"/>
<rect class="s" x="527.3" y="741.6" width="19.4" height="19.4"/>
<rect class="s" x="500.9" y="739.2" width="19.4" height="19.4"/>
<rect class="s" x="469.0" y="742.7" width="19.4" height="19.4"/>
<rect class="s" x="422.8" y="737.2" width="19.4" height="19.4"/>
<rect class="s" x="371.8" y="727.8" width="19.4" height="19.4"/>
<rect class="s" x="347.3" y="716.8" width="19.4" height="19.4"/>
<rect class="s" x="316.1" y="717.3" width="19.4" height="19.4"/>
</g>
</g>
<g stroke="#262626" stroke-width="2.2" fill="none">
<rect x="190.0" y="41.5" width="1431.3" height="1038.0"/>
<line x1="367.0" y1="1079.5" x2="367.0" y2="1067.0"/>
<line x1="367.0" y1="41.5" x2="367.0" y2="54.0"/>
<line x1="547.1" y1="1079.5" x2="547.1" y2="1067.0"/>
<line x1="547.1" y1="41.5" x2="547.1" y2="54.0"/>
<line x1="726.6" y1="1079.5" x2="726.6" y2="1067.0"/>
<line x1="726.6" y1="41.5" x2="726.6" y2="54.0"/>
<line x1="906.7" y1="1079.5" x2="906.7" y2="1067.0"/>
<line x1="906.7" y1="41.5" x2="906.7" y2="54.0"/>
<line x1="1084.0" y1="1079.5" x2="1084.0" y2="1067.0"/>
<line x1="1084.0" y1="41.5" x2="1084.0" y2="54.0"/>
<line x1="1263.7" y1="1079.5" x2="1263.7" y2="1067.0"/>
<line x1="1263.7" y1="41.5" x2="1263.7" y2="54.0"/>
<line x1="1443.6" y1="1079.5" x2="1443.6" y2="1067.0"/>
<line x1="1443.6" y1="41.5" x2="1443.6" y2="54.0"/>
<line x1="190.0" y1="170.1" x2="202.5" y2="170.1"/>
<line x1="1621.3" y1="170.1" x2="1608.8" y2="170.1"/>
<line x1="190.0" y1="301.3" x2="202.5" y2="301.3"/>
<line x1="1621.3" y1="301.3" x2="1608.8" y2="301.3"/>
<line x1="190.0" y1="430.7" x2="202.5" y2="430.7"/>
<line x1="1621.3" y1="430.7" x2="1608.8" y2="430.7"/>
<line x1="190.0" y1="562.2" x2="202.5" y2="562.2"/>
<line x1="1621.3" y1="562.2" x2="1608.8" y2="562.2"/>
<line x1="190.0" y1="690.3" x2="202.5" y2="690.3"/>
<line x1="1621.3" y1="690.3" x2="1608.8" y2="690.3"/>
<line x1="190.0" y1="822.3" x2="202.5" y2="822.3"/>
<line x1="1621.3" y1="822.3" x2="1608.8" y2="822.3"/>
<line x1="190.0" y1="950.7" x2="202.5" y2="950.7"/>
<line x1="1621.3" y1="950.7" x2="1608.8" y2="950.7"/>
</g>
<text class="t" transform="translate(181.3,1149.6) scale(1,1.055)" text-anchor="middle">−0.4</text>
<text class="t" transform="translate(361.1,1149.6) scale(1,1.055)" text-anchor="middle">−0.3</text>
<text class="t" transform="translate(538.0,1149.6) scale(1,1.055)" text-anchor="middle">−0.2</text>
<text class="t" transform="translate(718.9,1149.6) scale(1,1.055)" text-anchor="middle">−0.1</text>
<text class="t" transform="translate(904.7,1149.6) scale(1,1.055)" text-anchor="middle">0</text>
<text class="t" transform="translate(1085.0,1149.6) scale(1,1.055)" text-anchor="middle">0.1</text>
<text class="t" transform="translate(1265.2,1149.6) scale(1,1.055)" text-anchor="middle">0.2</text>
<text class="t" transform="translate(1443.0,1149.6) scale(1,1.055)" text-anchor="middle">0.3</text>
<text class="t" transform="translate(1622.5,1149.6) scale(1,1.055)" text-anchor="middle">0.4</text>
<text class="t" transform="translate(171.3,59.6) scale(1,1.055)" text-anchor="end">0.5</text>
<text class="t" transform="translate(171.2,188.7) scale(1,1.055)" text-anchor="end">0.4</text>
<text class="t" transform="translate(171.2,319.7) scale(1,1.055)" text-anchor="end">0.3</text>
<text class="t" transform="translate(171.2,449.3) scale(1,1.055)" text-anchor="end">0.2</text>
<text class="t" transform="translate(171.2,581.0) scale(1,1.055)" text-anchor="end">0.1</text>
<text class="t" transform="translate(169.6,709.2) scale(1,1.055)" text-anchor="end">0</text>
<text class="t" transform="translate(169.0,841.0) scale(1,1.055)" text-anchor="end">−0.1</text>
<text class="t" transform="translate(168.9,971.7) scale(1,1.055)" text-anchor="end">−0.2</text>
<text class="t" transform="translate(169.1,1100.7) scale(1,1.055)" text-anchor="end">−0.3</text>
<text class="l" x="905" y="1222" text-anchor="middle">x (m)</text>
<text class="l" transform="translate(61.5,561.8) rotate(-90)" text-anchor="middle">y (m)</text>
<rect x="1152.4" y="75.8" width="391.3" height="179.4" fill="#fff" stroke="#262626" stroke-width="2"/>
<circle class="b" cx="1224" cy="108.6" r="8.3"/>
<path class="rh" d="M1225.1 149.5L1237.2 165.8L1225.1 182.1L1213.0 165.8Z"/><path class="r" d="M1225.1 149.5L1237.2 165.8L1225.1 182.1L1213.0 165.8Z"/>
<rect class="sh" x="1215.5" y="214.5" width="19.2" height="19.2"/>
<rect class="s" x="1215.4" y="214.4" width="19.4" height="19.4"/>
<text class="g" x="1294.3" y="127.9">Δx=R/25</text>
<text class="g" x="1294.3" y="184.0">Δx=R/18.75</text>
<text class="g" x="1294.3" y="242.2">Δx=R/12.5</text>
</svg></body></html>
